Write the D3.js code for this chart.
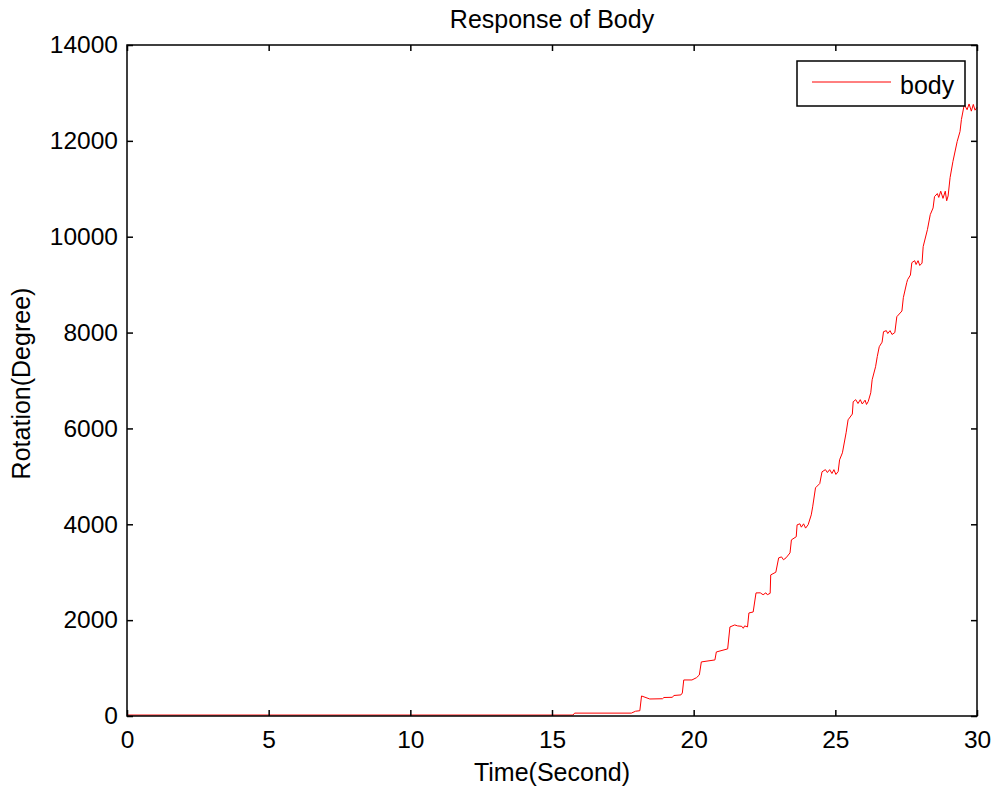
<!DOCTYPE html>
<html>
<head>
<meta charset="utf-8">
<script src="https://cdn.jsdelivr.net/npm/d3@7"></script>
<style>
  body { margin: 0; background: #fff; }
  text { font-family: Arial, "Liberation Sans", sans-serif; fill: #000; }
  .line { fill: none; stroke: #ff0000; stroke-width: 1; }
</style>
</head>
<body>
<svg width="995" height="788"></svg>
<script>
// datos
var time = [0, 15.74, 15.8, 17.8, 17.95, 18.1, 18.16, 18.45, 18.9, 18.95, 19.25, 19.3, 19.55, 19.6, 19.65, 19.94,
  20.1, 20.2, 20.27, 20.75, 20.8, 21.2, 21.28, 21.45, 21.55, 21.7, 21.75, 21.8, 21.9, 21.95, 22.1, 22.2,
  22.35, 22.45, 22.55, 22.6, 22.7, 22.72, 22.9, 23.0, 23.1, 23.17, 23.26, 23.4, 23.45, 23.62, 23.65, 23.75,
  23.8, 23.88, 23.95, 24.04, 24.15, 24.2, 24.3, 24.45, 24.53, 24.65, 24.72, 24.8, 24.88, 24.95, 25.02, 25.1,
  25.15, 25.25, 25.38, 25.45, 25.6, 25.63, 25.72, 25.8, 25.88, 25.95, 26.05, 26.1, 26.16, 26.25, 26.3, 26.42,
  26.48, 26.55, 26.65, 26.7, 26.8, 26.85, 26.93, 27.0, 27.1, 27.17, 27.35, 27.4, 27.52, 27.55, 27.65, 27.7,
  27.8, 27.85, 27.92, 27.98, 28.06, 28.1, 28.25, 28.35, 28.45, 28.5, 28.6, 28.65, 28.72, 28.8, 28.88, 28.93,
  28.98, 29.05, 29.15, 29.3, 29.4, 29.45, 29.55, 29.65, 29.72, 29.8, 29.87, 29.93, 30];

var rotation = [20, 20, 60, 60, 100, 110, 418, 355, 360, 386, 390, 428, 440, 480, 752, 752,
  800, 856, 1128, 1170, 1336, 1400, 1858, 1900, 1880, 1870, 1830, 1880, 1858, 2150, 2170, 2568,
  2570, 2530, 2570, 2530, 2560, 2944, 3000, 3299, 3320, 3260, 3300, 3403, 3675, 3740, 3988, 4010,
  3940, 4010, 3920, 3990, 4197, 4364, 4761, 4850, 5095, 5140, 5080, 5140, 5060, 5140, 5040, 5100,
  5345, 5491, 5909, 6180, 6300, 6556, 6600, 6520, 6600, 6510, 6590, 6500, 6560, 6744, 7016, 7287,
  7500, 7705, 7800, 8018, 8040, 7980, 8040, 7960, 8000, 8331, 8450, 8728, 9041, 9104, 9200, 9459,
  9500, 9420, 9500, 9400, 9450, 9793, 10147, 10461, 10600, 10837, 10900, 10820, 10950, 10800, 10950, 10750,
  10850, 11233, 11568, 11986, 12194, 12445, 12758, 12650, 12770, 12620, 12760, 12640, 12700];

var xTicks = [0, 5, 10, 15, 20, 25, 30];
var yTicks = [0, 2000, 4000, 6000, 8000, 10000, 12000, 14000];
var seriesName = "body";

var data = time.map(function(t, i) { return {t: t, v: rotation[i]}; });

var svg = d3.select("svg"),
    margin = {top: 45, right: 18, bottom: 72, left: 127},
    width = svg.attr("width") - margin.left - margin.right,
    height = svg.attr("height") - margin.top - margin.bottom;

var x = d3.scaleLinear().domain([0, 30]).range([0, width]);
var y = d3.scaleLinear().domain([0, 14000]).range([height, 0]);

var g = svg.append("g")
    .attr("transform", "translate(" + margin.left + "," + margin.top + ")");

// linea de datos
var linef = d3.line()
    .x(d => x(d.t))
    .y(d => y(d.v));

g.append("path")
    .datum(data)
    .attr("class", "line")
    .attr("d", linef);

// ejes con ticks hacia dentro, estilo matlab
var tickStyle = function(sel) {
  sel.select(".domain").remove();
  sel.selectAll(".tick line").attr("stroke", "#000").attr("stroke-width", 1.5);
  sel.selectAll(".tick text").style("font-size", "24.5px").style("font-family", "Arial, 'Liberation Sans', sans-serif");
};

g.append("g")
    .attr("transform", "translate(0," + height + ")")
    .call(d3.axisBottom(x).tickValues(xTicks).tickSize(-6).tickPadding(15).tickFormat(d3.format("d")))
    .call(tickStyle);

g.append("g")
    .call(d3.axisTop(x).tickValues(xTicks).tickSize(-6).tickFormat(""))
    .call(tickStyle);

g.append("g")
    .call(d3.axisLeft(y).tickValues(yTicks).tickSize(-6).tickPadding(9).tickFormat(d3.format("d")))
    .call(tickStyle);

g.append("g")
    .attr("transform", "translate(" + width + ",0)")
    .call(d3.axisRight(y).tickValues(yTicks).tickSize(-6).tickFormat(""))
    .call(tickStyle);

// caja
g.append("rect")
    .attr("width", width)
    .attr("height", height)
    .attr("fill", "none")
    .attr("stroke", "#000")
    .attr("stroke-width", 1.5);

// titulos
svg.append("text")
    .attr("x", margin.left + width / 2)
    .attr("y", 28)
    .attr("text-anchor", "middle")
    .style("font-size", "25px")
    .text("Response of Body");

svg.append("text")
    .attr("x", margin.left + width / 2)
    .attr("y", 781)
    .attr("text-anchor", "middle")
    .style("font-size", "25px")
    .text("Time(Second)");

svg.append("text")
    .attr("transform", "translate(30," + (margin.top + height / 2 + 3) + ") rotate(-90)")
    .attr("text-anchor", "middle")
    .style("font-size", "25px")
    .text("Rotation(Degree)");

// leyenda
var legend = svg.append("g")
    .attr("transform", "translate(797,61)");

legend.append("rect")
    .attr("width", 168)
    .attr("height", 45)
    .attr("fill", "#fff")
    .attr("stroke", "#000")
    .attr("stroke-width", 1.5);

legend.append("line")
    .attr("x1", 15).attr("x2", 94)
    .attr("y1", 21).attr("y2", 21)
    .attr("stroke", "#ff0000");

legend.append("text")
    .attr("x", 103)
    .attr("y", 33)
    .style("font-size", "25px")
    .text(seriesName);
</script>
</body>
</html>
